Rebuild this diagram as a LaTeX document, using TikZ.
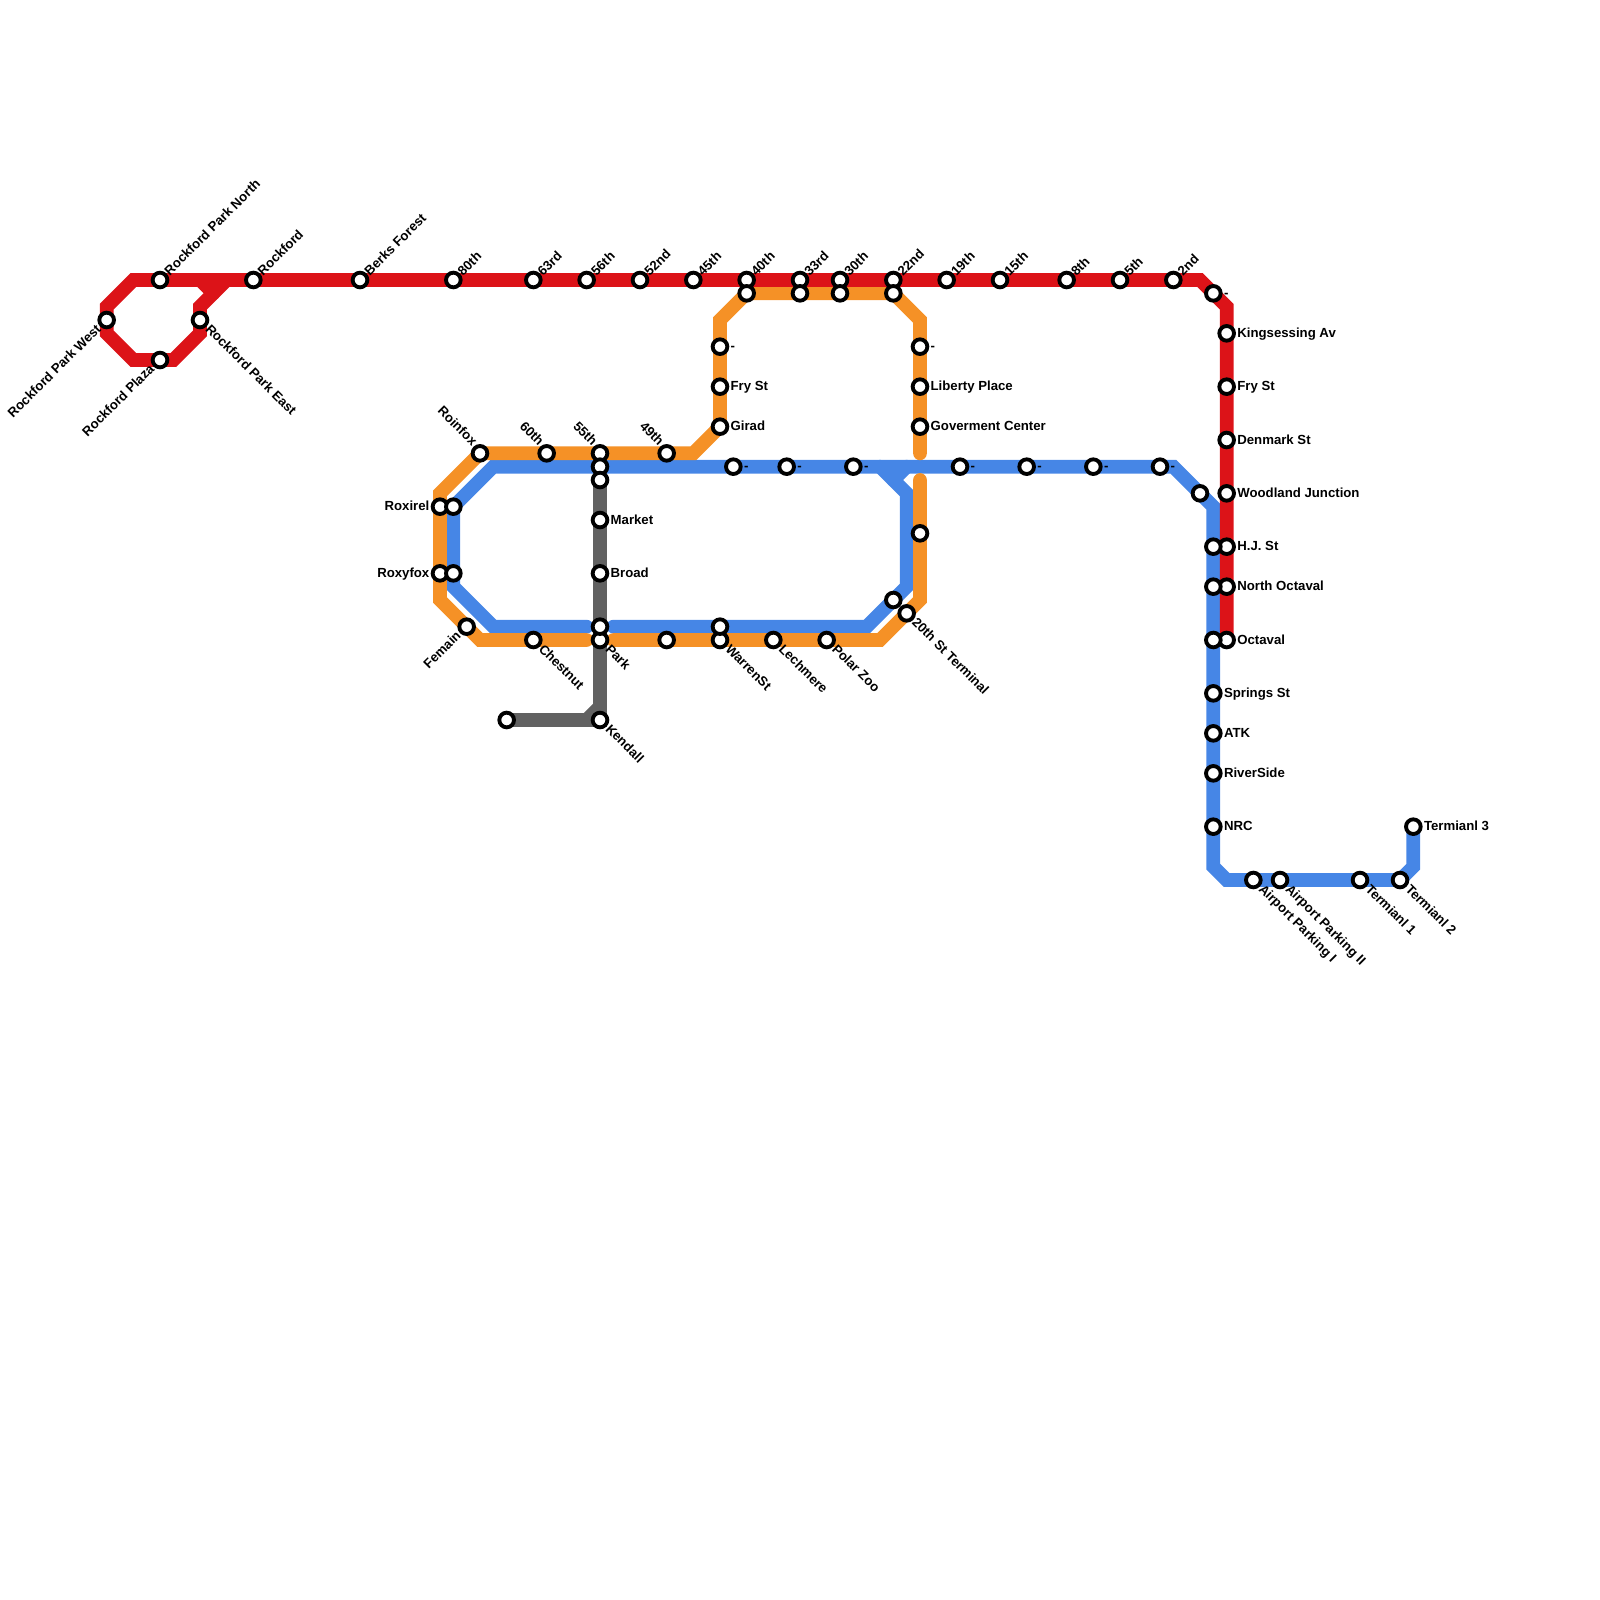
\documentclass[tikz,border=0pt]{standalone}
\usepackage{fontspec}
\setmainfont{Liberation Sans}
\tikzset{
  x=10pt,y=-10pt,
  route/.style={line width=10.3pt,line cap=round,line join=miter,miter limit=10},
  redline/.style={route,draw=lineRed},
  orangeline/.style={route,draw=lineOrange},
  blueline/.style={route,draw=lineBlue},
  greyline/.style={route,draw=lineGrey},
  stop/.style={circle,draw=black,fill=white,line width=2.9pt,minimum size=11pt,inner sep=0pt},
  lbl/.style={inner sep=0pt,outer sep=0pt,font=\fontsize{9.9pt}{11pt}\selectfont\bfseries,text=black},
  lblR/.style={lbl,anchor=base west,xshift=8pt,yshift=-3pt},
  lblL/.style={lbl,anchor=base east,xshift=-8pt,yshift=-3pt},
  lblUR/.style={lbl,anchor=base west,xshift=7.4pt,yshift=2.7pt,rotate=45},
  lblDR/.style={lbl,anchor=base west,xshift=3.6pt,yshift=-7.5pt,rotate=-45},
  lblUL/.style={lbl,anchor=base east,xshift=-6.2pt,yshift=5pt,rotate=-45},
  lblDL/.style={lbl,anchor=base east,xshift=-3.75pt,yshift=-7.5pt,rotate=45},
}
\definecolor{lineRed}{HTML}{DC1318}
\definecolor{lineOrange}{HTML}{F59126}
\definecolor{lineBlue}{HTML}{4686E6}
\definecolor{lineGrey}{HTML}{616161}
\newcommand{\stn}[3]{\node[stop] (#1) at (#2,#3) {};}
\newcommand{\lab}[3]{\node[#1] (#2-label) at (#2.center) {#3};}
\begin{document}
\begin{tikzpicture}
\useasboundingbox (0,0) rectangle (120,120);
% route bends
\coordinate (ra) at (92,48);\coordinate (rb) at (92,23);\coordinate (rc) at (90,21);\coordinate (rd) at (10,21);
\coordinate (re) at (8,23);\coordinate (rf) at (8,25);\coordinate (rg) at (10,27);\coordinate (rh) at (13,27);
\coordinate (ri) at (15,25);\coordinate (rj) at (15,23);\coordinate (rk) at (17,21);\coordinate (rl) at (15,21);\coordinate (rm) at (16,22);
\coordinate (oa) at (69,34);\coordinate (ob) at (69,24);\coordinate (oc) at (67,22);\coordinate (od) at (56,22);
\coordinate (oe) at (54,24);\coordinate (of) at (54,32);\coordinate (og) at (52,34);\coordinate (oh) at (36,34);
\coordinate (oi) at (33,37);\coordinate (oj) at (33,45);\coordinate (ok) at (36,48);\coordinate (ol) at (44,48);
\coordinate (om) at (46,48);\coordinate (on) at (66,48);\coordinate (oo) at (69,45);\coordinate (op) at (69,36);
\coordinate (ba) at (44,47);\coordinate (bb) at (37,47);\coordinate (bc) at (34,44);\coordinate (bd) at (34,38);
\coordinate (be) at (37,35);\coordinate (bf) at (88,35);\coordinate (bg) at (91,38);\coordinate (bh) at (91,65);
\coordinate (bi) at (92,66);\coordinate (bj) at (105,66);\coordinate (bk) at (106,65);\coordinate (bl) at (106,62);
\coordinate (bm) at (46,47);\coordinate (bn) at (65,47);\coordinate (bo) at (68,44);\coordinate (bp) at (68,37);
\coordinate (bq) at (66,35);\coordinate (br) at (67,36);\coordinate (bs) at (68,35);
\coordinate (ga) at (38,54);\coordinate (gb) at (44,54);\coordinate (gc) at (45,53);\coordinate (gd) at (45,36);\coordinate (ge) at (45,54);
% routes
\draw[blueline] (ba)--(bb)--(bc)--(bd)--(be)--(bf)--(bg)--(bh)--(bi)--(bj)--(bk)--(bl);
\draw[blueline] (bm)--(bn)--(bo)--(bp)--(bq);
\draw[blueline] (br)--(bs);
\draw[orangeline] (oa)--(ob)--(oc)--(od)--(oe)--(of)--(og)--(oh)--(oi)--(oj)--(ok)--(ol);
\draw[orangeline] (om)--(on)--(oo)--(op);
\draw[redline] (ra)--(rb)--(rc)--(rd)--(re)--(rf)--(rg)--(rh)--(ri)--(rj)--(rk);
\draw[redline] (rl)--(rm);
\draw[greyline,line cap=butt] (ga)--(gb)--(gc)--(gd);
\draw[greyline,line cap=butt] (gc)--(ge)--(gb);
% red stations
\stn{a1}{8}{24}\stn{a2}{12}{21}\stn{a3}{12}{27}\stn{a4}{15}{24}\stn{a5}{19}{21}\stn{a6}{27}{21}\stn{a7}{34}{21}
\stn{a8}{40}{21}\stn{a9}{44}{21}\stn{a10}{48}{21}\stn{a11}{52}{21}\stn{a12}{56}{21}\stn{a13}{60}{21}\stn{a14}{63}{21}
\stn{a15}{67}{21}\stn{a16}{71}{21}\stn{a17}{75}{21}\stn{a18}{80}{21}\stn{a19}{84}{21}\stn{a20}{88}{21}\stn{a21}{91}{22}
\stn{a22}{92}{25}\stn{a23}{92}{29}\stn{a24}{92}{33}\stn{a25}{92}{37}\stn{a26}{92}{41}\stn{a27}{92}{44}\stn{a28}{92}{48}
% orange stations
\stn{o1}{36}{34}\stn{o2}{41}{34}\stn{o3}{45}{34}\stn{o4}{50}{34}\stn{o5}{54}{32}\stn{o6}{54}{29}\stn{o7}{54}{26}
\stn{o8}{56}{22}\stn{o9}{60}{22}\stn{o10}{63}{22}\stn{o11}{67}{22}\stn{o12}{69}{26}\stn{o13}{69}{29}\stn{o14}{69}{32}
\stn{o15}{69}{40}\stn{o16}{68}{46}\stn{o17}{62}{48}\stn{o18}{58}{48}\stn{o19}{54}{48}\stn{o20}{50}{48}\stn{o21}{45}{48}
\stn{o22}{40}{48}\stn{o23}{35}{47}\stn{o24}{33}{43}\stn{o25}{33}{38}
% blue stations
\stn{b1}{34}{38}\stn{b2}{34}{43}\stn{b3}{45}{35}\stn{b4}{55}{35}\stn{b5}{59}{35}\stn{b6}{64}{35}\stn{b7}{72}{35}
\stn{b8}{77}{35}\stn{b9}{82}{35}\stn{b10}{87}{35}\stn{b11}{90}{37}\stn{b12}{91}{41}\stn{b13}{91}{44}\stn{b14}{91}{48}
\stn{b15}{91}{52}\stn{b16}{91}{55}\stn{b17}{91}{58}\stn{b18}{91}{62}\stn{b19}{94}{66}\stn{b20}{96}{66}\stn{b21}{102}{66}
\stn{b22}{105}{66}\stn{b23}{106}{62}\stn{b24}{45}{47}\stn{b25}{54}{47}\stn{b26}{67}{45}
% grey stations
\stn{g1}{45}{36}\stn{g2}{45}{39}\stn{g3}{45}{43}\stn{g4}{45}{54}\stn{g5}{38}{54}
% labels
\lab{lblUR}{a2}{Rockford Park North}\lab{lblUR}{a5}{Rockford}\lab{lblUR}{a6}{Berks Forest}\lab{lblUR}{a7}{80th}
\lab{lblUR}{a8}{63rd}\lab{lblUR}{a9}{56th}\lab{lblUR}{a10}{52nd}\lab{lblUR}{a11}{45th}\lab{lblUR}{a12}{40th}
\lab{lblUR}{a13}{33rd}\lab{lblUR}{a14}{30th}\lab{lblUR}{a15}{22nd}\lab{lblUR}{a16}{19th}\lab{lblUR}{a17}{15th}
\lab{lblUR}{a18}{8th}\lab{lblUR}{a19}{5th}\lab{lblUR}{a20}{2nd}
\lab{lblDL}{a1}{Rockford Park West}\lab{lblDL}{a3}{Rockford Plaza}\lab{lblDL}{o23}{Femain}
\lab{lblDR}{a4}{Rockford Park East}\lab{lblDR}{o22}{Chestnut}\lab{lblDR}{o21}{Park}\lab{lblDR}{g4}{Kendall}
\lab{lblDR}{o19}{WarrenSt}\lab{lblDR}{o18}{Lechmere}\lab{lblDR}{o17}{Polar Zoo}\lab{lblDR}{o16}{20th St Terminal}
\lab{lblDR}{b19}{Airport Parking I}\lab{lblDR}{b20}{Airport Parking II}\lab{lblDR}{b21}{Termianl 1}\lab{lblDR}{b22}{Termianl 2}
\lab{lblUL}{o1}{Roinfox}\lab{lblUL}{o2}{60th}\lab{lblUL}{o3}{55th}\lab{lblUL}{o4}{49th}
\lab{lblL}{o25}{Roxirel}\lab{lblL}{o24}{Roxyfox}
\lab{lblR}{g2}{Market}\lab{lblR}{g3}{Broad}\lab{lblR}{o7}{-}\lab{lblR}{o6}{Fry St}\lab{lblR}{o5}{Girad}
\lab{lblR}{o12}{-}\lab{lblR}{o13}{Liberty Place}\lab{lblR}{o14}{Goverment Center}
\lab{lblR}{b4}{-}\lab{lblR}{b5}{-}\lab{lblR}{b6}{-}\lab{lblR}{b7}{-}\lab{lblR}{b8}{-}\lab{lblR}{b9}{-}\lab{lblR}{b10}{-}
\lab{lblR}{a21}{-}\lab{lblR}{a22}{Kingsessing Av}\lab{lblR}{a23}{Fry St}\lab{lblR}{a24}{Denmark St}
\lab{lblR}{a25}{Woodland Junction}\lab{lblR}{a26}{H.J. St}\lab{lblR}{a27}{North Octaval}\lab{lblR}{a28}{Octaval}
\lab{lblR}{b15}{Springs St}\lab{lblR}{b16}{ATK}\lab{lblR}{b17}{RiverSide}\lab{lblR}{b18}{NRC}\lab{lblR}{b23}{Termianl 3}
\end{tikzpicture}
\end{document}
